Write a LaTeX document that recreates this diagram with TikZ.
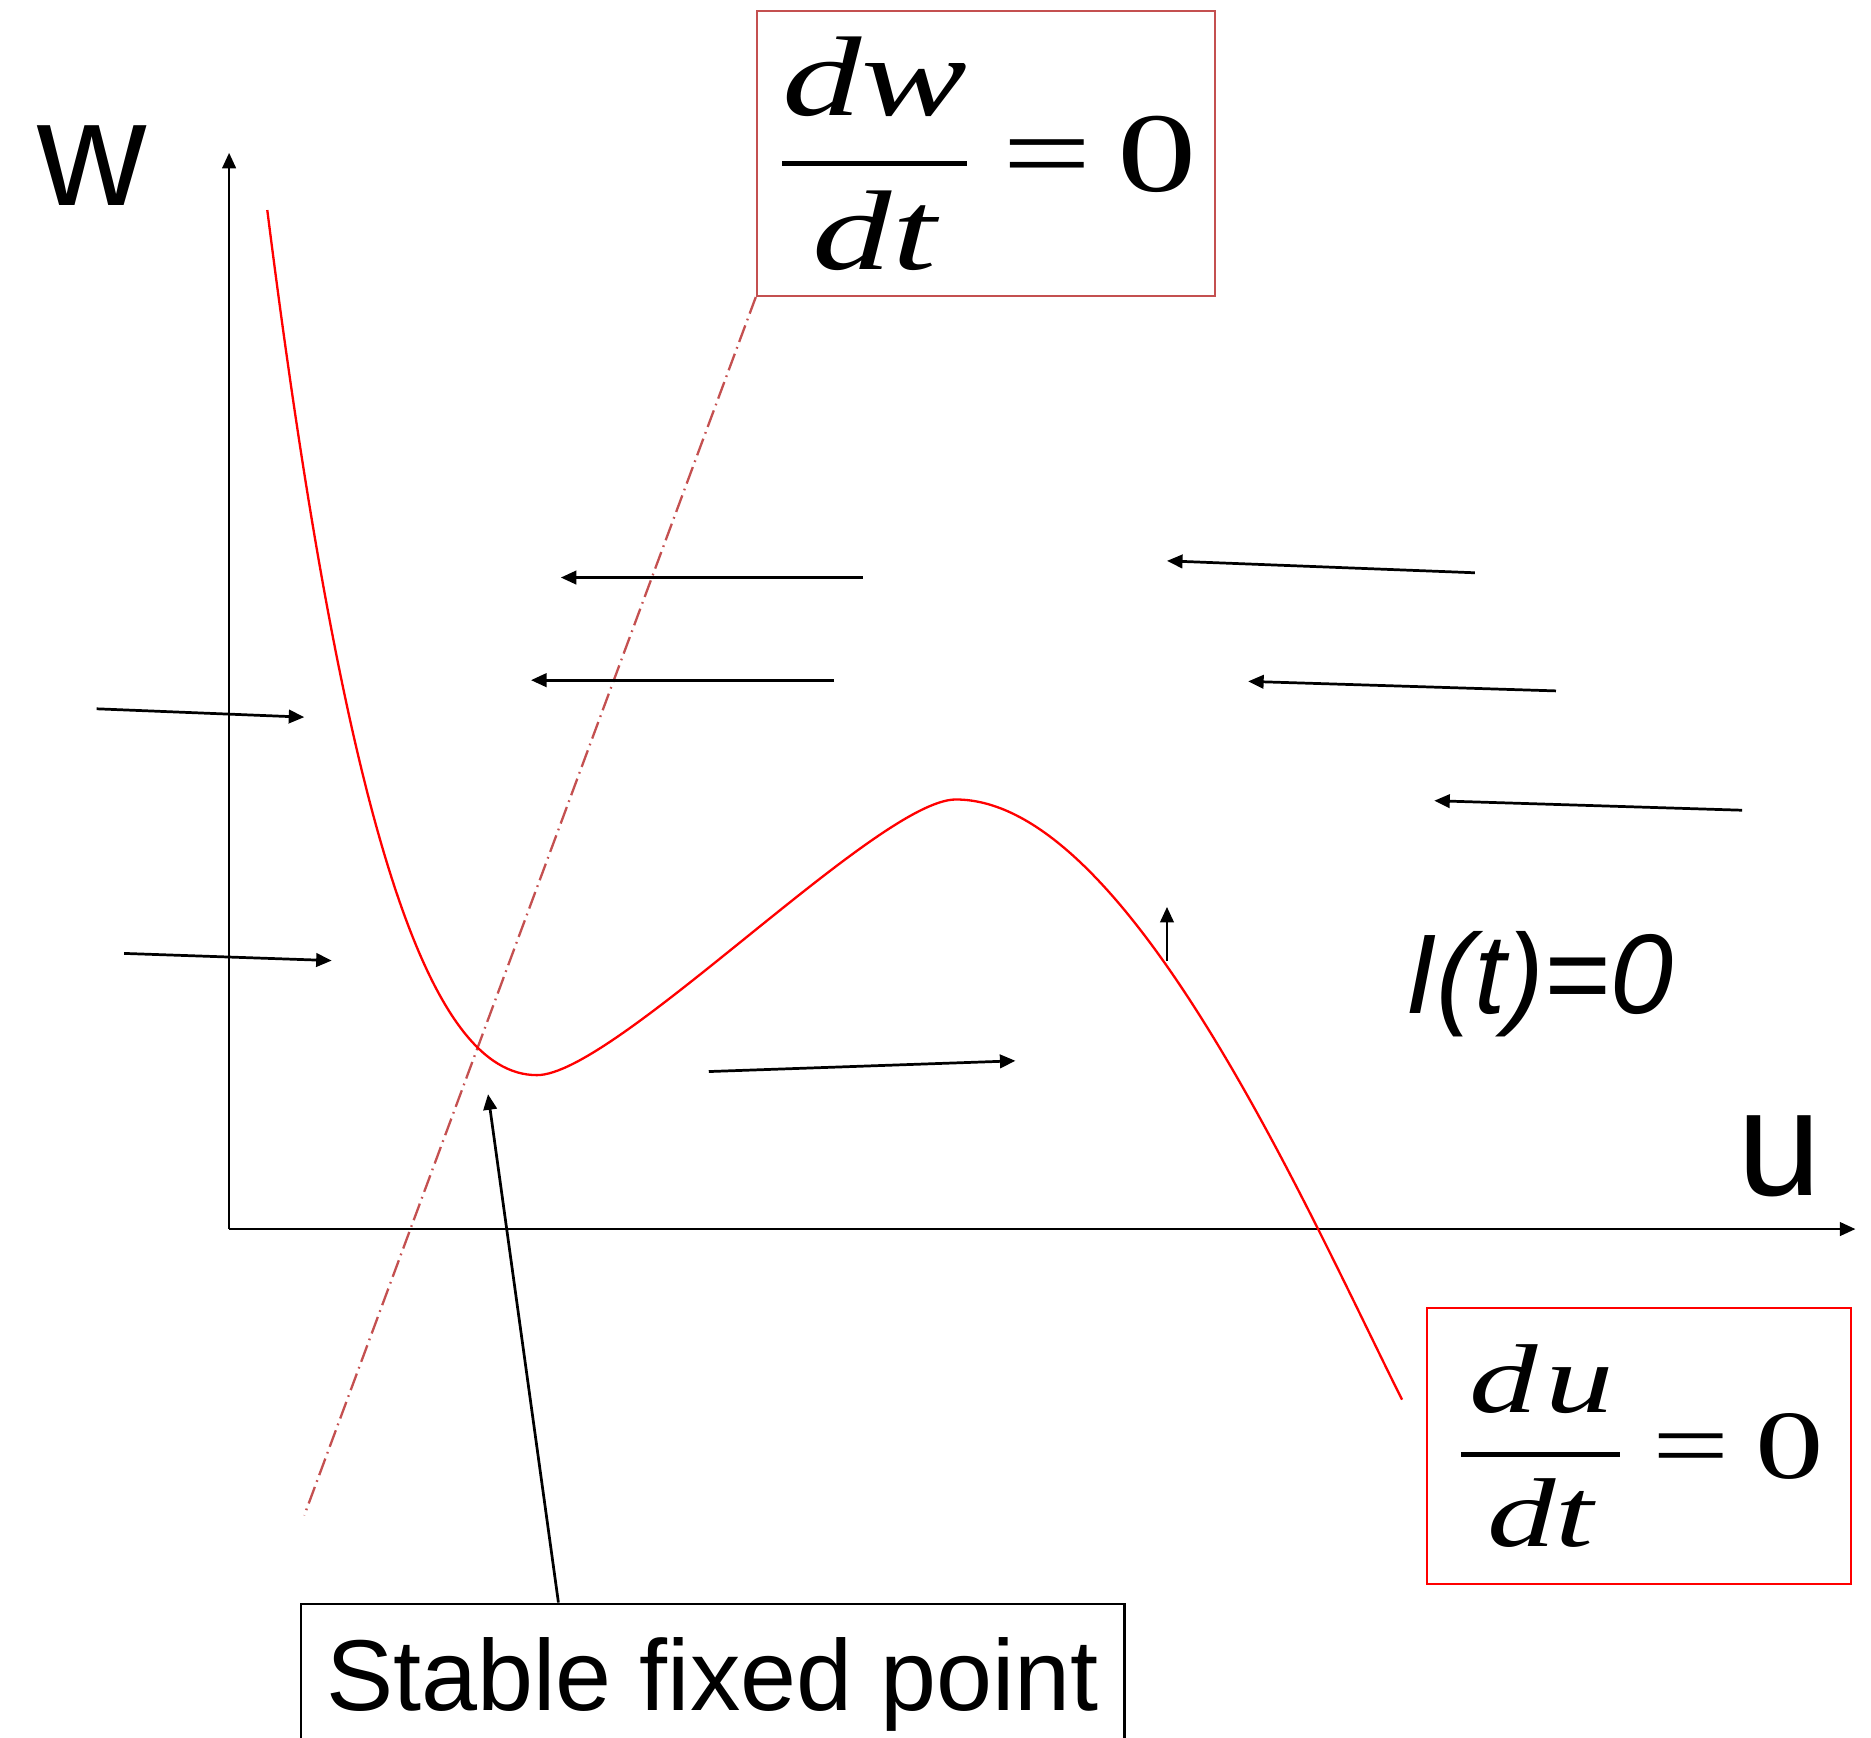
\RequirePackage{fix-cm}
\documentclass[tikz,border=0pt]{standalone}
\usepackage[no-math]{fontspec}
\setmainfont{Liberation Sans}
\newfontfamily\tnr{Liberation Serif}
\usepackage{tikz}
\usetikzlibrary{arrows.meta,calc}
\definecolor{dashred}{RGB}{196,80,80}

\begin{document}
\begin{tikzpicture}[x=0.01cm,y=-0.01cm,>={Triangle[length=3.7pt,width=3.2pt]}]
\tikzstyle{axis}=[->,line width=0.65pt]
\tikzstyle{flow}=[->,line width=0.65pt]
\tikzstyle{eqbox}=[draw,inner sep=0pt]
\tikzstyle{lbl}=[inner sep=0pt,anchor=base]
\useasboundingbox (0,0) rectangle (1568,1456);

% axes
\coordinate (O) at (192,1030);
\coordinate (wend) at (192,128);
\coordinate (uend) at (1555,1030);
\draw[axis] (O) -- (wend);
\draw[axis] (O) -- (uend);
\node[lbl,font=\fontsize{36}{40}\selectfont] (wlab) at (77,172) {w};
\node[lbl,font=\fontsize{36}{40}\selectfont] (ulab) at (1491,1002) {u};

% nullclines
\node[eqbox,draw=dashred,line width=0.45pt,minimum width=3.84cm,minimum height=2.39cm,
  font=\fontsize{27}{30}\selectfont] (dwbox) at (826.3,128.6)
  {\scalebox{1.4}[1]{$\displaystyle{\mbox{\tnr\itshape dw}\above1.2pt\mbox{\tnr\itshape dt}}\mbox{\tnr\kern.18em=\kern.16em 0}$}};
\node[eqbox,draw=red,line width=0.55pt,minimum width=3.55cm,minimum height=2.315cm,
  font=\fontsize{23.3}{26}\selectfont] (dubox) at (1373.7,1211.8)
  {\scalebox{1.4}[1]{$\displaystyle{\mbox{\tnr\itshape\kern.06em d\kern.06em u\kern.04em}\above1.1pt\mbox{\tnr\itshape dt}}\mbox{\tnr\kern.19em=\kern.19em 0}$}};
\coordinate (dwend) at (255,1270);
\draw[dashred,line width=0.55pt,dash pattern=on 4.2pt off 1.3pt on 0.4pt off 1.3pt] (dwbox.south west) -- (dwend);
\draw[red,line width=0.55pt] (224,176) .. controls (290,700) and (360,901) .. (450,901)
  .. controls (515,901) and (736,670) .. (801,670)
  .. controls (945,670) and (1095,1013) .. (1175,1173);

% flow
\foreach \xa/\ya/\xb/\yb in {723/484/470/484, 699/570/445/570, 1236/480/978/470, 1304/579/1046/571, 1460/679/1202/671, 81/594/255/601, 104/799/278/805, 594/898/851/889, 978/805/978/760}
  \draw[flow] (\xa,\ya) -- (\xb,\yb);
\node[lbl,font=\fontsize{27}{30}\selectfont\itshape] (input) at (1290,849) {I(t)=0};

% fixed point
\coordinate (sfp) at (409,917);
\node[draw,line width=0.55pt,anchor=north west,minimum width=6.9cm,minimum height=1.36cm,
  font=\fontsize{24}{28}\selectfont] (fixed) at (251,1343) {Stable fixed point};
\draw[flow] ($(fixed.north west)+(217,0)$) -- (sfp);
\end{tikzpicture}
\end{document}
